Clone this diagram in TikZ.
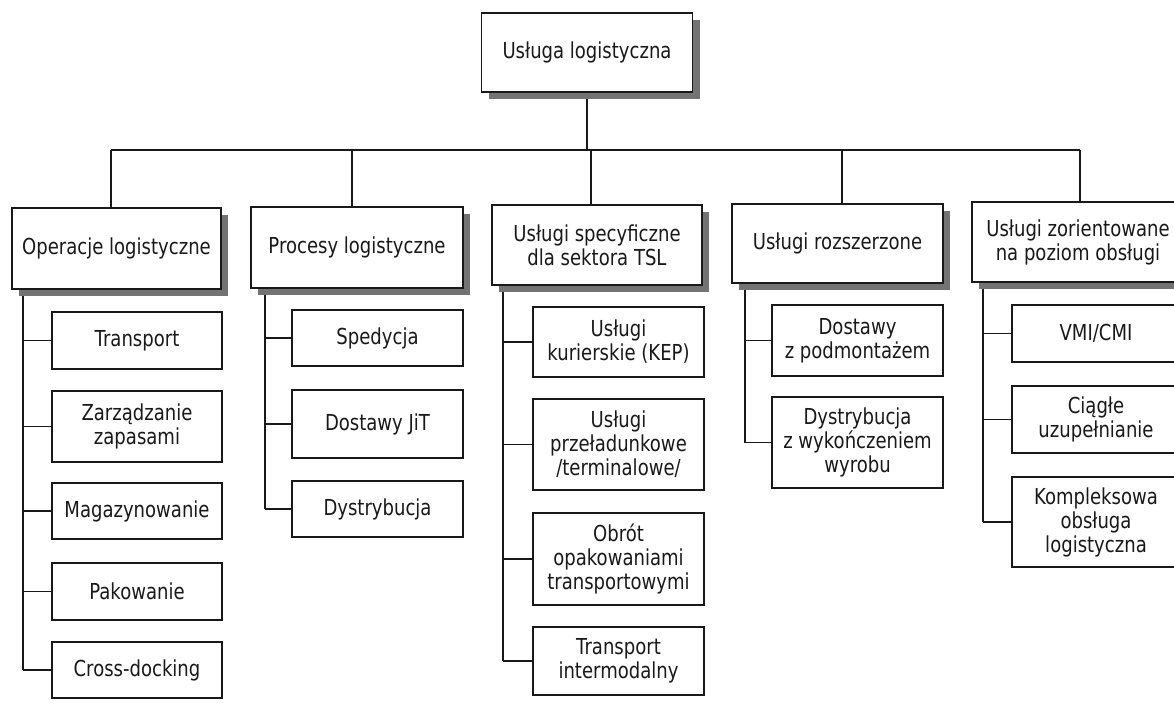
\documentclass[tikz,border=0pt]{standalone}
\usepackage{fontspec}
\setmainfont{DejaVu Sans}[FakeStretch=0.82]
\usetikzlibrary{shadows,backgrounds}
\tikzset{
  box/.style={draw=black!90, line width=1.2pt, fill=white, align=center, inner sep=0pt,
    font=\fontsize{22}{24}\selectfont, text=black!90},
  hdr/.style={box, drop shadow={shadow xshift=7pt, shadow yshift=-7pt, fill=black!55, opacity=1}},
  conn/.style={draw=black!90, line width=1.1pt}
}
\begin{document}
\begin{tikzpicture}[x=1pt,y=-1pt]
\useasboundingbox (0,0) rectangle (1174,709);
% top
\node[hdr, minimum width=211pt, minimum height=79pt] (top) at (587,52.5) {Usługa logistyczna};
% headers
\node[hdr, minimum width=209pt, minimum height=81pt] (h1) at (116.5,248.5) {Operacje logistyczne};
\node[hdr, minimum width=212pt, minimum height=81pt] (h2) at (357,247.5) {Procesy logistyczne};
\node[hdr, minimum width=210pt, minimum height=80pt] (h3) at (597,245) {Usługi specyficzne\\dla sektora TSL};
\node[hdr, minimum width=211pt, minimum height=79pt] (h4) at (837.5,243.5) {Usługi rozszerzone};
\node[hdr, minimum width=212pt, minimum height=80pt] (h5) at (1078,242) {Usługi zorientowane\\na poziom obsługi};
% column 1
\node[box, minimum width=170pt, minimum height=57pt] (a1) at (137,340.5) {Transport};
\node[box, minimum width=170pt, minimum height=71pt] (a2) at (137,426.5) {Zarządzanie\\zapasami};
\node[box, minimum width=170pt, minimum height=56pt] (a3) at (137,511) {Magazynowanie};
\node[box, minimum width=170pt, minimum height=57pt] (a4) at (137,591.5) {Pakowanie};
\node[box, minimum width=170pt, minimum height=56pt] (a5) at (137,670) {Cross-docking};
% column 2
\node[box, minimum width=171pt, minimum height=56pt] (b1) at (377.5,338) {Spedycja};
\node[box, minimum width=171pt, minimum height=68pt] (b2) at (377.5,424) {Dostawy JiT};
\node[box, minimum width=171pt, minimum height=56pt] (b3) at (377.5,509) {Dystrybucja};
% column 3
\node[box, minimum width=171pt, minimum height=70pt] (c1) at (618.5,342) {Usługi\\kurierskie (KEP)};
\node[box, minimum width=171pt, minimum height=91pt] (c2) at (618.5,444.5) {Usługi\\przeładunkowe\\/terminalowe/};
\node[box, minimum width=171pt, minimum height=92pt] (c3) at (618.5,559) {Obrót\\opakowaniami\\transportowymi};
\node[box, minimum width=171pt, minimum height=68pt] (c4) at (618.5,661) {Transport\\intermodalny};
% column 4
\node[box, minimum width=171pt, minimum height=71pt] (d1) at (857.5,340.5) {Dostawy\\z podmontażem};
\node[box, minimum width=171pt, minimum height=91pt] (d2) at (857.5,442.5) {Dystrybucja\\z wykończeniem\\wyrobu};
% column 5
\node[box, minimum width=168pt, minimum height=57pt] (e1) at (1096,333.5) {VMI/CMI};
\node[box, minimum width=168pt, minimum height=67pt] (e2) at (1096,419.5) {Ciągłe\\uzupełnianie};
\node[box, minimum width=168pt, minimum height=90pt] (e3) at (1096,522) {Kompleksowa\\obsługa\\logistyczna};
% bus coordinates
\coordinate (t1) at (111,150);
\coordinate (t2) at (352,150);
\coordinate (t3) at (591,150);
\coordinate (t4) at (842,150);
\coordinate (t5) at (1080,150);
\coordinate (v1) at (23,290);
\coordinate (v2) at (265,290);
\coordinate (v3) at (503,290);
\coordinate (v4) at (745,290);
\coordinate (v5) at (983,290);
\begin{pgfonlayer}{background}
\fill[white] (0,0) rectangle (1174,709);
\draw[conn] (top.south) -- (top.south |- t1);
\draw[conn] (t1) -- (t5);
\draw[conn] (t1) -- (t1 |- h1.north);
\draw[conn] (t2) -- (t2 |- h2.north);
\draw[conn] (t3) -- (t3 |- h3.north);
\draw[conn] (t4) -- (t4 |- h4.north);
\draw[conn] (t5) -- (t5 |- h5.north);
% vertical buses
\draw[conn] (v1 |- h1.south) -- (v1 |- a5.west);
\draw[conn] (v2 |- h2.south) -- (v2 |- b3.west);
\draw[conn] (v3 |- h3.south) -- (v3 |- c4.west);
\draw[conn] (v4 |- h4.south) -- (v4 |- d2.west);
\draw[conn] (v5 |- h5.south) -- (v5 |- e3.west);
\end{pgfonlayer}
\foreach \n in {a1,a2,a3,a4,a5} \draw[conn] (\n.west) -- (\n.west -| v1);
\foreach \n in {b1,b2,b3} \draw[conn] (\n.west) -- (\n.west -| v2);
\foreach \n in {c1,c2,c3,c4} \draw[conn] (\n.west) -- (\n.west -| v3);
\foreach \n in {d1,d2} \draw[conn] (\n.west) -- (\n.west -| v4);
\foreach \n in {e1,e2,e3} \draw[conn] (\n.west) -- (\n.west -| v5);
\end{tikzpicture}
\end{document}
